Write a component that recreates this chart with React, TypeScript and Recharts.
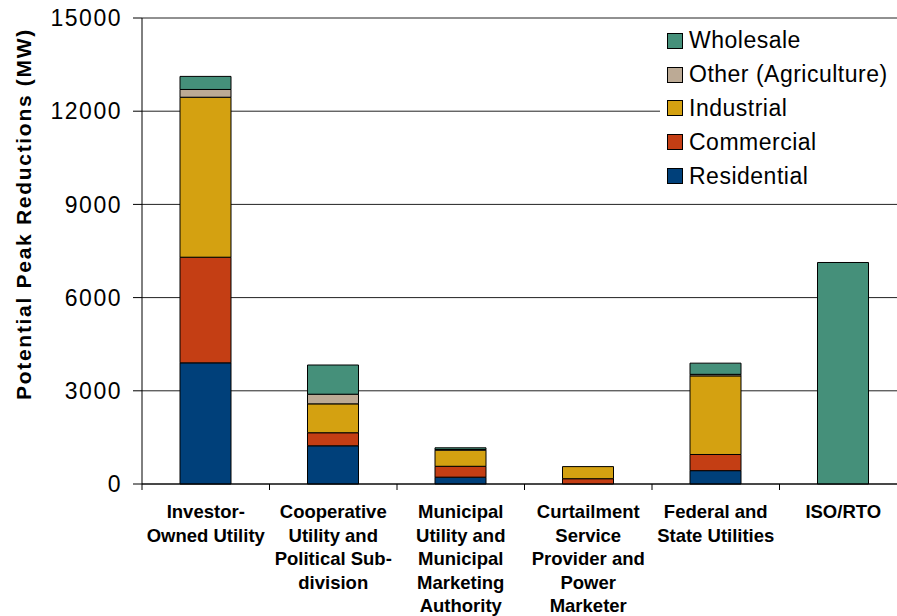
import React from 'react';
import { BarChart, Bar, XAxis, YAxis, CartesianGrid } from 'recharts';

const categories = [
  'Investor-Owned Utility',
  'Cooperative Utility and Political Subdivision',
  'Municipal Utility and Municipal Marketing Authority',
  'Curtailment Service Provider and Power Marketer',
  'Federal and State Utilities',
  'ISO/RTO',
];

const categoryLines = [
  ['Investor-', 'Owned Utility'],
  ['Cooperative', 'Utility and', 'Political Sub-', 'division'],
  ['Municipal', 'Utility and', 'Municipal', 'Marketing', 'Authority'],
  ['Curtailment', 'Service', 'Provider and', 'Power', 'Marketer'],
  ['Federal and', 'State Utilities'],
  ['ISO/RTO'],
];

const residential = [3900, 1230, 220, 0, 430, 0];
const commercial = [3400, 420, 350, 170, 520, 0];
const industrial = [5150, 930, 520, 390, 2530, 0];
const other = [250, 310, 20, 0, 50, 0];
const wholesale = [420, 940, 55, 0, 360, 7130];

const yTicks = [0, 3000, 6000, 9000, 12000, 15000];

const series = [
  { key: 'wholesale', name: 'Wholesale', color: '#45907a' },
  { key: 'other', name: 'Other (Agriculture)', color: '#bcaa95' },
  { key: 'industrial', name: 'Industrial', color: '#d4a111' },
  { key: 'commercial', name: 'Commercial', color: '#c43e14' },
  { key: 'residential', name: 'Residential', color: '#00407a' },
];

const data = categories.map((name, i) => ({
  name,
  residential: residential[i],
  commercial: commercial[i],
  industrial: industrial[i],
  other: other[i],
  wholesale: wholesale[i],
}));

const CHART_W = 910;
const CHART_H = 616;
const PLOT_LEFT = 142;
const PLOT_RIGHT = 907;
const BAND = (PLOT_RIGHT - PLOT_LEFT) / categories.length;
const FONT = 'Arial, "Liberation Sans", Helvetica, sans-serif';

const CategoryTick = ({ x, y, index }: any) => {
  const lines = categoryLines[index] || [];
  return (
    <g>
      <line x1={x - BAND / 2} x2={x - BAND / 2} y1={y} y2={y + 6} stroke="#000" />
      <text
        x={x}
        y={y + 34}
        textAnchor="middle"
        fontFamily={FONT}
        fontWeight="bold"
        fontSize={18.5}
        fill="#000"
      >
        {lines.map((l, j) => (
          <tspan key={j} x={x} dy={j === 0 ? 0 : 23.5}>
            {l}
          </tspan>
        ))}
      </text>
    </g>
  );
};

const LegendBox = () => (
  <div
    style={{
      position: 'absolute',
      left: 660,
      top: 23,
      width: 237,
      background: '#fff',
      paddingTop: 1,
      paddingBottom: 2,
      fontFamily: FONT,
      fontSize: 23,
      letterSpacing: 0.5,
      color: '#000',
    }}
  >
    {series.map((s) => (
      <div key={s.key} style={{ display: 'flex', alignItems: 'center', height: 33.8 }}>
        <span
          style={{
            display: 'inline-block',
            width: 14,
            height: 14,
            background: s.color,
            border: '1px solid #000',
            marginLeft: 7,
            marginRight: 6,
          }}
        />
        <span>{s.name}</span>
      </div>
    ))}
  </div>
);

const YTitle = () => (
  <text
    x={23}
    y={214}
    transform="rotate(-90 23 214)"
    textAnchor="middle"
    dominantBaseline="central"
    fontFamily={FONT}
    fontWeight="bold"
    fontSize={21}
    letterSpacing={1.7}
    fill="#000"
  >
    Potential Peak Reductions (MW)
  </text>
);

export default function App() {
  return (
    <div
      style={{
        position: 'absolute',
        left: 0,
        top: 0,
        width: 897,
        height: 616,
        overflow: 'hidden',
        background: '#fff',
      }}
    >
      <BarChart
        width={CHART_W}
        height={CHART_H}
        data={data}
        margin={{ top: 18, right: CHART_W - PLOT_RIGHT, bottom: 0, left: 0 }}
        barSize={51}
      >
        <CartesianGrid vertical={false} stroke="#222" />
        <XAxis
          dataKey="name"
          height={CHART_H - 484}
          axisLine={{ stroke: '#000' }}
          tickLine={false}
          tickSize={0}
          tickMargin={0}
          interval={0}
          tick={<CategoryTick />}
        />
        <YAxis
          width={PLOT_LEFT}
          domain={[0, 15000]}
          ticks={yTicks}
          interval={0}
          axisLine={{ stroke: '#000' }}
          tickLine={{ stroke: '#000' }}
          tickSize={9}
          tickMargin={11}
          tick={{ fill: '#000', fontSize: 23, letterSpacing: 1.5, fontFamily: FONT }}
          label={{ content: () => <YTitle /> }}
        />
        {[...series].reverse().map((s) => (
          <Bar
            key={s.key}
            dataKey={s.key}
            name={s.name}
            stackId="a"
            fill={s.color}
            stroke="#000"
            strokeWidth={1}
            isAnimationActive={false}
          />
        ))}
      </BarChart>
      <LegendBox />
    </div>
  );
}
